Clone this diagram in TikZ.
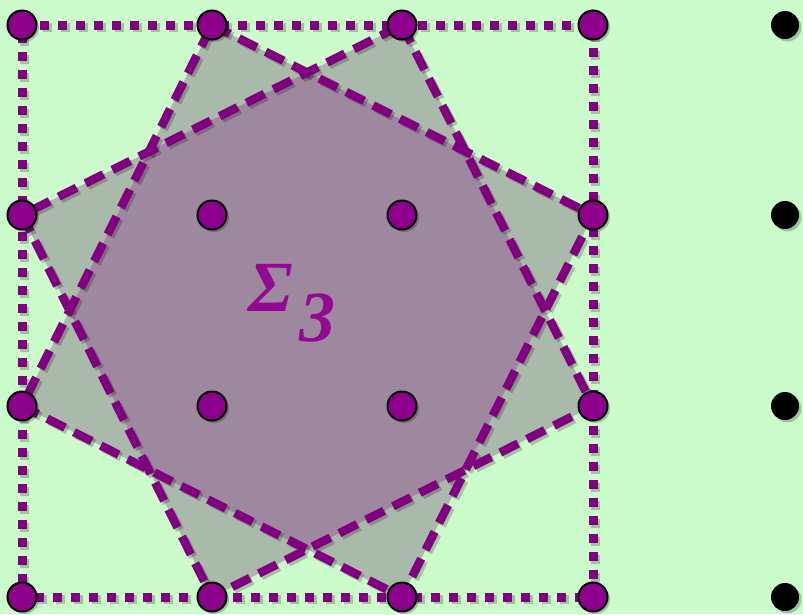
\documentclass[tikz,border=0pt]{standalone}
\usepackage{fontspec}
\setmainfont{Liberation Serif}
\definecolor{bg}{RGB}{204,252,204}
\definecolor{grayfill}{RGB}{170,186,170}
\definecolor{octfill}{RGB}{158,136,160}
\definecolor{pline}{RGB}{128,0,128}
\definecolor{pdot}{RGB}{140,0,140}
\definecolor{ptext}{RGB}{145,10,145}
\begin{document}
\begin{tikzpicture}[x=1pt,y=-1pt,
  dotp/.style={circle,draw=black,line width=2pt,fill=pdot,minimum size=29pt,inner sep=0pt},
  dotk/.style={circle,fill=black,minimum size=28pt,inner sep=0pt},
  dashline/.style={draw=pline,line width=8.5pt,dash pattern=on 20pt off 10pt},
  dotline/.style={draw=pline,line width=9pt,dash pattern=on 9pt off 9pt},
  shadowed/.style={draw=black,opacity=0.22,transform canvas={shift={(2.5pt,-2.5pt)}}},
  lbl/.style={text=ptext,font=\bfseries\itshape\fontsize{72}{72}\selectfont,inner sep=0pt}
]
\fill[bg] (0,0) rectangle (803,614);
\useasboundingbox (0,0) rectangle (803,614);
% grid points
\coordinate (p11) at (22,25);  \coordinate (p12) at (212,25);  \coordinate (p13) at (402,25);  \coordinate (p14) at (593,25);
\coordinate (p21) at (22,215); \coordinate (p22) at (212,215); \coordinate (p23) at (402,215); \coordinate (p24) at (593,215);
\coordinate (p31) at (22,406); \coordinate (p32) at (212,406); \coordinate (p33) at (402,406); \coordinate (p34) at (593,406);
\coordinate (p41) at (22,597); \coordinate (p42) at (212,597); \coordinate (p43) at (402,597); \coordinate (p44) at (593,597);
% fills
\fill[grayfill] (p12)--(p24)--(p43)--(p31)--cycle;
\fill[grayfill] (p13)--(p34)--(p42)--(p21)--cycle;
\begin{scope}
  \clip (p12)--(p24)--(p43)--(p31)--cycle;
  \fill[octfill] (p13)--(p34)--(p42)--(p21)--cycle;
\end{scope}
% shadows of lines
\draw[dashline,shadowed] (p12)--(p24)--(p43)--(p31)--cycle;
\draw[dashline,shadowed] (p13)--(p34)--(p42)--(p21)--cycle;
\draw[dotline,shadowed] (p11)--(p14)--(p44)--(p41)--cycle;
% lines
\draw[dashline] (p12)--(p24)--(p43)--(p31)--cycle;
\draw[dashline] (p13)--(p34)--(p42)--(p21)--cycle;
\draw[dotline] (p11)--(p14)--(p44)--(p41)--cycle;
% label
\node[lbl,anchor=base west] (sig) at (248,311) {Σ};
\node[lbl,anchor=base west] (sub) at (299,341) {3};
% dot shadows
\foreach \p in {p11,p12,p13,p14,p21,p22,p23,p24,p31,p32,p33,p34,p41,p42,p43,p44}
  \fill[black,opacity=0.22,transform canvas={shift={(2.5pt,-2.5pt)}}] (\p) circle (14.5);
\foreach \y in {25,215,406,597}
  \fill[black,opacity=0.22,transform canvas={shift={(2.5pt,-2.5pt)}}] (785,\y) circle (14);
% dots
\foreach \p in {p11,p12,p13,p14,p21,p22,p23,p24,p31,p32,p33,p34,p41,p42,p43,p44}
  \node[dotp] (d\p) at (\p) {};
\node[dotk] (k1) at (785,25) {};
\node[dotk] (k2) at (785,215) {};
\node[dotk] (k3) at (785,406) {};
\node[dotk] (k4) at (785,597) {};
\end{tikzpicture}
\end{document}
